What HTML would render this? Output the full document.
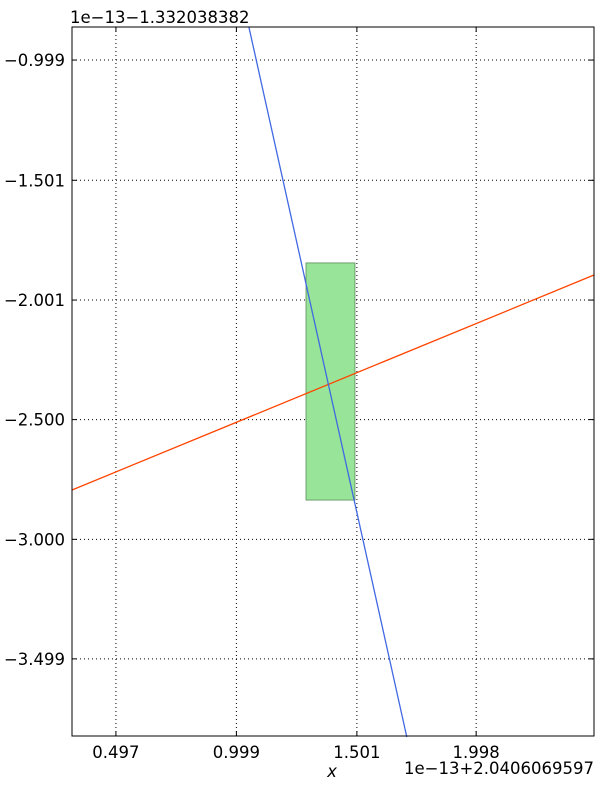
<!DOCTYPE html>
<html><head><meta charset="utf-8"><style>
body{margin:0;background:#fff;}
svg text{font-family:"DejaVu Sans","Liberation Sans",sans-serif;font-size:16.5px;fill:#000;}
</style></head><body>
<svg id="chart" width="614" height="783" xmlns="http://www.w3.org/2000/svg">
<rect x="0" y="0" width="614" height="783" fill="#fff"/>
<g id="grid"></g>
<g id="series"></g>
<rect x="72" y="27" width="522" height="709" fill="none" stroke="#000" stroke-width="1"/>
<g id="ticks"></g>
<text x="70" y="23">1e−13−1.332038382</text>
<text x="594" y="774" text-anchor="end">1e−13+2.0406069597</text>
<text x="332" y="777" text-anchor="middle" font-style="italic">x</text>
</svg>
<script>
const xTicks=[0.497,0.999,1.501,1.998];
const xTickLabels=["0.497","0.999","1.501","1.998"];
const yTicks=[-0.999,-1.501,-2.001,-2.500,-3.000,-3.499];
const yTickLabels=["−0.999","−1.501","−2.001","−2.500","−3.000","−3.499"];
const blueX=[1.051,1.709];
const blueY=[-0.861,-3.825];
const orangeX=[0.314,2.49];
const orangeY=[-2.794,-1.896];
const rectX=[1.289,1.493];
const rectY=[-1.846,-2.836];
const L=72,R=594,T=27,B=736;
const xMin=0.314,xMax=2.489,yMax=-0.861,yMin=-3.821;
const sx=v=>L+(v-xMin)/(xMax-xMin)*(R-L);
const sy=v=>T+(yMax-v)/(yMax-yMin)*(B-T);
const NS="http://www.w3.org/2000/svg";
function mk(tag,attrs,parent){const e=document.createElementNS(NS,tag);for(const k in attrs)e.setAttribute(k,attrs[k]);document.getElementById(parent).appendChild(e);return e;}
xTicks.forEach((v,i)=>{const x=sx(v);
 let g=mk('line',{x1:x,x2:x,y1:T,y2:B,stroke:'#000','stroke-dasharray':'1,3','stroke-width':1},'grid');
 
 
 let t=mk('text',{x:x,y:B+22,'text-anchor':'middle'},'ticks');t.textContent=xTickLabels[i];
 
 
 mk('line',{x1:x,x2:x,y1:B,y2:B-5,stroke:'#000'},'ticks');
 mk('line',{x1:x,x2:x,y1:T,y2:T+5,stroke:'#000'},'ticks');
});
yTicks.forEach((v,i)=>{const y=sy(v);
 let g=mk('line',{x1:L,x2:R,y1:y,y2:y,stroke:'#000','stroke-dasharray':'1,3','stroke-width':1},'grid');
 
 
 let t=mk('text',{x:65,y:y+6,'text-anchor':'end'},'ticks');t.textContent=yTickLabels[i];
 
 
 mk('line',{x1:L,x2:L+5,y1:y,y2:y,stroke:'#000'},'ticks');
 mk('line',{x1:R,x2:R-5,y1:y,y2:y,stroke:'#000'},'ticks');
});
let r=mk('rect',{x:sx(rectX[0]),y:sy(rectY[0]),width:sx(rectX[1])-sx(rectX[0]),height:sy(rectY[1])-sy(rectY[0]),fill:'#98e498',stroke:'#5a8a5a','stroke-width':0.8},'series');


let o=mk('line',{x1:sx(orangeX[0]),y1:sy(orangeY[0]),x2:sx(orangeX[1]),y2:sy(orangeY[1]),stroke:'#ff4500','stroke-width':1.3},'series');


let b=mk('line',{x1:sx(blueX[0]),y1:sy(blueY[0]),x2:sx(blueX[1]),y2:sy(blueY[1]),stroke:'#4169e1','stroke-width':1.3},'series');


</script>
</body></html>
